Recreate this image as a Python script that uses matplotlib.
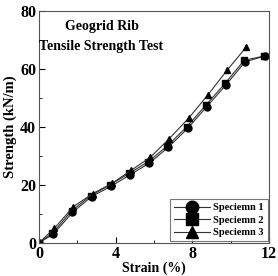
import matplotlib
matplotlib.use("Agg")
import matplotlib.pyplot as plt
from matplotlib.ticker import MultipleLocator

# strain (%) and strength (kN/m)
strain_1 = [0, 0.75, 1.75, 2.75, 3.75, 4.75, 5.75, 6.75, 7.75, 8.75, 9.75, 10.75, 11.8]
strength_1 = [0, 3.0, 10.5, 16.0, 19.5, 23.5, 27.5, 33.0, 39.5, 47.0, 54.5, 62.5, 64.5]

strain_2 = [0, 0.7, 1.7, 2.7, 3.7, 4.7, 5.7, 6.7, 7.7, 8.7, 9.7, 10.7, 11.75]
strength_2 = [0, 3.3, 11.0, 16.3, 20.0, 24.0, 28.0, 33.5, 40.0, 47.5, 55.0, 63.0, 64.5]

strain_3 = [0, 0.8, 1.8, 2.8, 3.8, 4.8, 5.8, 6.8, 7.8, 8.8, 9.8, 10.8]
strength_3 = [0, 5.0, 12.5, 17.0, 20.5, 25.0, 29.5, 36.0, 43.0, 51.0, 59.5, 67.5]

labels = ["Speciemn 1", "Speciemn 2", "Speciemn 3"]

plt.rcParams["font.family"] = "Liberation Serif"
plt.rcParams["font.weight"] = "bold"

fig = plt.figure(figsize=(2.78, 2.76), dpi=100)
ax = fig.add_axes([0.14, 0.12, 0.828, 0.84])

ax.plot(strain_1, strength_1, color="#333333", lw=0.8, marker="o", ms=5, mfc="black", mec="black", label=labels[0])
ax.plot(strain_2, strength_2, color="#333333", lw=0.8, marker="s", ms=5, mfc="black", mec="black", label=labels[1])
ax.plot(strain_3, strength_3, color="#333333", lw=0.8, marker="^", ms=4.5, mfc="black", mec="black", label=labels[2])

ax.set_xlim(0, 12)
ax.set_ylim(0, 80)
ax.xaxis.set_major_locator(MultipleLocator(4))
ax.xaxis.set_minor_locator(MultipleLocator(2))
ax.yaxis.set_major_locator(MultipleLocator(20))
ax.yaxis.set_minor_locator(MultipleLocator(10))
ax.tick_params(which="both", direction="in", top=False, right=False, labelsize=11.5, pad=2)
ax.tick_params(which="major", length=4)
ax.tick_params(which="minor", length=2.5)
for lab in ax.get_xticklabels() + ax.get_yticklabels():
    lab.set_fontweight("bold")
for s in ax.spines.values():
    s.set_color("#555555")
    s.set_linewidth(0.8)

ax.set_xlabel("Strain (%)", fontsize=10, fontweight="bold", labelpad=0)
ax.set_ylabel("Strength (kN/m)", fontsize=10.5, fontweight="bold", labelpad=2)

ax.text(0.115, 0.96, "Geogrid Rib", transform=ax.transAxes, fontsize=10, fontweight="bold", va="top")
ax.text(0.0, 0.875, "Tensile Strength Test", transform=ax.transAxes, fontsize=10, fontweight="bold", va="top")

leg = ax.legend(loc="lower right", fontsize=7.5, markerscale=1.8, frameon=True, fancybox=False,
                edgecolor="#555555", borderaxespad=0.15, handlelength=3.4, labelspacing=0.3,
                borderpad=0.4, handletextpad=0.3)
leg.get_frame().set_linewidth(0.8)
for t in leg.get_texts():
    t.set_fontweight("bold")

fig.savefig("out.png", dpi=100)
